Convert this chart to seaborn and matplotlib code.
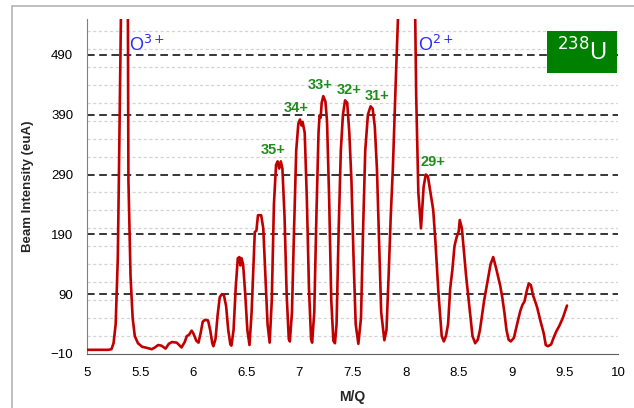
import matplotlib
matplotlib.use("Agg")
import matplotlib.pyplot as plt
from matplotlib.patches import Rectangle
import seaborn as sns
import pandas as pd

# beam spectrum (M/Q, intensity in euA)
mq = [5.00, 5.10, 5.20, 5.23, 5.25, 5.27, 5.29, 5.30, 5.32, 5.35, 5.37, 5.385, 5.39, 5.41, 5.43, 5.45,
      5.48, 5.52, 5.57, 5.61, 5.64, 5.67, 5.70, 5.74, 5.77, 5.80, 5.845, 5.89, 5.92, 5.94, 5.96, 5.985,
      6.00, 6.03, 6.05, 6.07, 6.09, 6.11, 6.14, 6.16, 6.18, 6.19, 6.21, 6.23, 6.25, 6.27, 6.29, 6.31,
      6.33, 6.35, 6.36, 6.38, 6.40, 6.42, 6.435, 6.445, 6.455, 6.47, 6.49, 6.51, 6.53, 6.55, 6.57, 6.58,
      6.595, 6.61, 6.64, 6.66, 6.68, 6.70, 6.72, 6.74, 6.76, 6.78, 6.795, 6.81, 6.825, 6.84, 6.86, 6.88,
      6.90, 6.91, 6.93, 6.95, 6.97, 6.99, 7.005, 7.02, 7.03, 7.05, 7.07, 7.09, 7.11, 7.12, 7.14, 7.16,
      7.18, 7.19, 7.20, 7.21, 7.225, 7.245, 7.26, 7.28, 7.30, 7.32, 7.335, 7.35, 7.37, 7.39, 7.41, 7.43,
      7.45, 7.47, 7.49, 7.51, 7.53, 7.555, 7.58, 7.60, 7.62, 7.645, 7.67, 7.69, 7.71, 7.73, 7.75, 7.77,
      7.80, 7.82, 7.84, 7.86, 7.88, 7.91, 7.93, 8.00, 8.09, 8.10, 8.12, 8.145, 8.17, 8.19, 8.21, 8.23,
      8.26, 8.28, 8.31, 8.34, 8.36, 8.38, 8.40, 8.42, 8.44, 8.46, 8.48, 8.50, 8.51, 8.53, 8.55, 8.57,
      8.60, 8.63, 8.655, 8.68, 8.70, 8.72, 8.74, 8.77, 8.80, 8.825, 8.85, 8.87, 8.89, 8.91, 8.93, 8.95,
      8.97, 8.99, 9.02, 9.05, 9.08, 9.10, 9.12, 9.14, 9.16, 9.18, 9.20, 9.22, 9.24, 9.27, 9.30, 9.32,
      9.34, 9.37, 9.40, 9.42, 9.45, 9.48, 9.52]
intensity = [-3, -3, -3, -2, 8, 40, 150, 281, 560, 620, 600, 560, 281, 120, 50, 20,
             8, 2, 0, -2, 1, 5, 4, -1, 7, 10, 9, 1, 10, 20, 22, 29,
             25, 12, 9, 25, 44, 47, 46, 30, 8, 3, 15, 55, 85, 90, 88, 70,
             30, 6, 4, 30, 100, 150, 152, 138, 150, 140, 90, 30, 5, 60, 150, 194,
             196, 222, 222, 200, 120, 40, 9, 80, 240, 306, 312, 300, 312, 300, 220, 90,
             15, 11, 60, 200, 330, 375, 382, 372, 378, 360, 250, 100, 15, 9, 60, 220,
             360, 389, 385, 410, 421, 412, 380, 250, 80, 12, 8, 40, 200, 330, 390, 414,
             410, 360, 280, 150, 40, 7, 50, 200, 330, 390, 404, 400, 370, 300, 180, 60,
             13, 30, 120, 220, 300, 460, 560, 620, 560, 420, 260, 200, 270, 290, 287, 265,
             231, 180, 90, 20, 11, 20, 40, 100, 130, 170, 185, 195, 214, 200, 160, 120,
             70, 20, 8, 14, 30, 55, 80, 110, 140, 152, 135, 120, 105, 85, 60, 30,
             14, 11, 17, 40, 62, 72, 78, 95, 108, 105, 88, 78, 67, 45, 25, 5,
             3, 6, 20, 28, 38, 50, 71]

charge_labels = ["35+", "34+", "33+", "32+", "31+", "29+"]
label_x = [6.75, 6.97, 7.20, 7.47, 7.73, 8.26]
label_y = [331, 402, 439, 431, 422, 311]

y_major = [-10, 90, 190, 290, 390, 490]
y_minor = list(range(20, 550, 30))
x_ticks = [5, 5.5, 6, 6.5, 7, 7.5, 8, 8.5, 9, 9.5, 10]

df = pd.DataFrame({"M/Q": mq, "I": intensity})

sns.set_style("white")
plt.rcParams["font.family"] = ["Liberation Sans", "DejaVu Sans"]

fig = plt.figure(figsize=(6.34, 4.08), dpi=100)
# grey frame of the original figure box
fig.patches.append(Rectangle((12 / 634, -0.05), 1.1, 1 - 6 / 408 + 0.05, transform=fig.transFigure,
                             fill=False, edgecolor="#b4b4b4", linewidth=1.2))
ax = fig.add_axes([87 / 634, 54 / 408, 531 / 634, 335 / 408])

for v in y_minor:
    if v not in y_major:
        ax.axhline(v, color="#d4d4d4", lw=0.9, ls=(0, (2.5, 2)), zorder=0)
for v in y_major[1:]:
    ax.axhline(v, color="black", lw=1.1, ls=(0, (5, 3)), zorder=1)

sns.lineplot(data=df, x="M/Q", y="I", sort=False, color="#c00000", lw=1.9, ax=ax, zorder=3)

ax.set_xlim(5, 10)
ax.set_ylim(-10, 550)
ax.set_xticks(x_ticks)
ax.set_xticklabels([f"{t:g}" for t in x_ticks])
ax.set_yticks(y_major)
ax.tick_params(length=0, labelsize=9.5, colors="black")
ax.tick_params(axis="x", pad=9)
ax.tick_params(axis="y", pad=10)
ax.set_xlabel("M/Q", fontsize=10, fontweight="bold", labelpad=8)
ax.set_ylabel("Beam Intensity (euA)", fontsize=9.5, fontweight="bold", labelpad=12)
for s in ["top", "right"]:
    ax.spines[s].set_visible(False)
ax.spines["left"].set_color("#808080")
ax.spines["bottom"].set_color("#606060")

for txt, x, y in zip(charge_labels, label_x, label_y):
    ax.text(x, y, txt, color="#1e8c1e", fontsize=10.5, fontweight="bold", ha="center", va="center")

ax.text(5.40, 506, "O$^{3+}$", color="#2a2aff", fontsize=13, ha="left", va="center")
ax.text(8.12, 506, "O$^{2+}$", color="#2a2aff", fontsize=13, ha="left", va="center")

fig.patches.append(Rectangle((547 / 634, 1 - 72.7 / 408), 70 / 634, 42 / 408, transform=fig.transFigure,
                             facecolor="#008000", edgecolor="none"))
fig.text(582 / 634, 1 - 52 / 408, "$^{238}$U", color="white", fontsize=17, ha="center", va="center")

fig.savefig("out.png", dpi=100)
